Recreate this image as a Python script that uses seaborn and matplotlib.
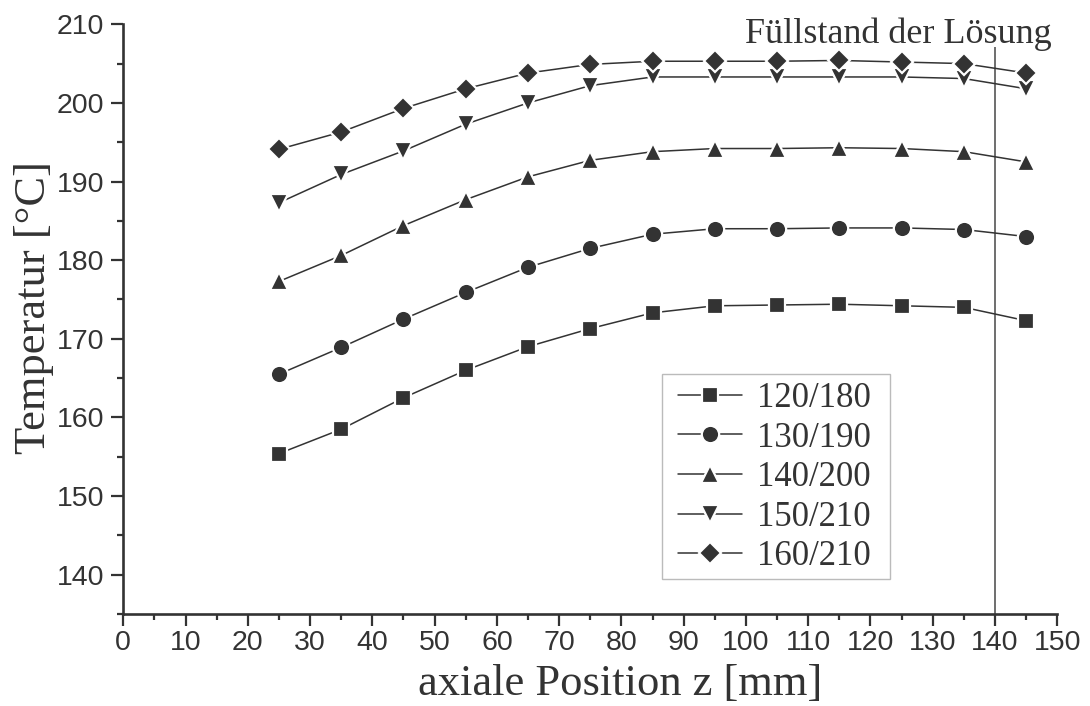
import matplotlib
matplotlib.use("Agg")
import matplotlib.pyplot as plt
from matplotlib.patches import Rectangle
from matplotlib.ticker import MultipleLocator
import pandas as pd
import seaborn as sns

# axial measuring positions [mm]
z = [25, 35, 45, 55, 65, 75, 85, 95, 105, 115, 125, 135, 145]

# temperature profiles [°C] for each heating setting
t_120_180 = [155.4, 158.5, 162.5, 166.0, 169.0, 171.3, 173.3, 174.2, 174.3, 174.4, 174.2, 174.0, 172.3]
t_130_190 = [165.5, 168.9, 172.5, 175.9, 179.1, 181.5, 183.3, 184.0, 184.0, 184.1, 184.1, 183.9, 183.0]
t_140_200 = [177.3, 180.6, 184.4, 187.7, 190.6, 192.7, 193.8, 194.2, 194.2, 194.3, 194.2, 193.8, 192.5]
t_150_210 = [187.3, 190.9, 193.9, 197.3, 200.0, 202.2, 203.3, 203.3, 203.3, 203.3, 203.3, 203.1, 201.8]
t_160_210 = [194.1, 196.3, 199.3, 201.8, 203.8, 204.9, 205.3, 205.3, 205.3, 205.4, 205.2, 205.0, 203.8]

labels = ["120/180", "130/190", "140/200", "150/210", "160/210"]
series = [t_120_180, t_130_190, t_140_200, t_150_210, t_160_210]

fill_level = 140  # filling level of the solution [mm]

sns.set_theme(style="ticks")
ink = "#333333"
serif = ["Liberation Serif", "DejaVu Serif"]
sans = ["Liberation Sans", "DejaVu Sans"]
plt.rcParams["font.family"] = sans

W, H = 1090, 706
fig = plt.figure(figsize=(W / 100, H / 100), dpi=100)
ax = fig.add_axes([0.1131, 0.1303, 0.8569, 0.8353])

markers = ["s", "o", "^", "v", "D"]
sizes = [12.0, 12.5, 13.5, 13.5, 10.8]

df = pd.DataFrame({"z": z, **{lab: vals for lab, vals in zip(labels, series)}})
for lab, mk, ms in zip(labels, markers, sizes):
    sns.lineplot(data=df, x="z", y=lab, ax=ax, color=ink, linewidth=1.1,
                 marker=mk, markersize=ms, markerfacecolor=ink,
                 markeredgecolor="white", markeredgewidth=1.6, label=lab)

# filling level marker line
ax.vlines(fill_level, 135, 207.15, color="#555555", linewidth=1.2, zorder=1)
ax.text(149.1, 207.6, "Füllstand der Lösung", ha="right", va="baseline",
        fontsize=26, family=serif, color=ink, clip_on=False)

ax.set_xlim(0, 150)
ax.set_ylim(135, 210)
ax.xaxis.set_major_locator(MultipleLocator(10))
ax.xaxis.set_minor_locator(MultipleLocator(5))
ax.yaxis.set_major_locator(MultipleLocator(10))
ax.yaxis.set_minor_locator(MultipleLocator(5))

for side in ["top", "right"]:
    ax.spines[side].set_visible(False)
for side in ["left", "bottom"]:
    ax.spines[side].set_linewidth(1.9)
    ax.spines[side].set_color(ink)

ax.tick_params(axis="both", which="major", direction="out", length=8.6,
               width=1.6, color=ink, labelcolor=ink, labelsize=20.5)
ax.tick_params(axis="both", which="minor", direction="out", length=4.5,
               width=1.6, color=ink)
ax.tick_params(axis="x", which="major", pad=3)
ax.tick_params(axis="y", which="major", pad=5)
for t in ax.get_xticklabels() + ax.get_yticklabels():
    t.set_family(sans)

ax.set_xlabel("axiale Position z [mm]", fontsize=32, family=serif, color=ink)
ax.set_ylabel("Temperatur [°C]", fontsize=32, family=serif, color=ink)
ax.xaxis.set_label_coords(0.532, -0.085)
ax.yaxis.set_label_coords(-0.074, 0.519)

# legend entries without their own frame; the box is drawn separately
leg = ax.legend(loc="upper left", bbox_to_anchor=(678 / W, 1 - 382 / H),
                bbox_transform=fig.transFigure, borderaxespad=0, borderpad=0,
                prop={"family": serif, "size": 25}, frameon=False,
                handlelength=1.85, handletextpad=0.42, labelspacing=0.19)
for txt in leg.get_texts():
    txt.set_color(ink)

fig.patches.append(Rectangle((661.5 / W, 1 - 578.5 / H), 228.5 / W, 205 / H,
                             transform=fig.transFigure, facecolor="none",
                             edgecolor="#bbbbbb", linewidth=1.0, zorder=5))

fig.savefig("out.png", dpi=100, facecolor="white")
